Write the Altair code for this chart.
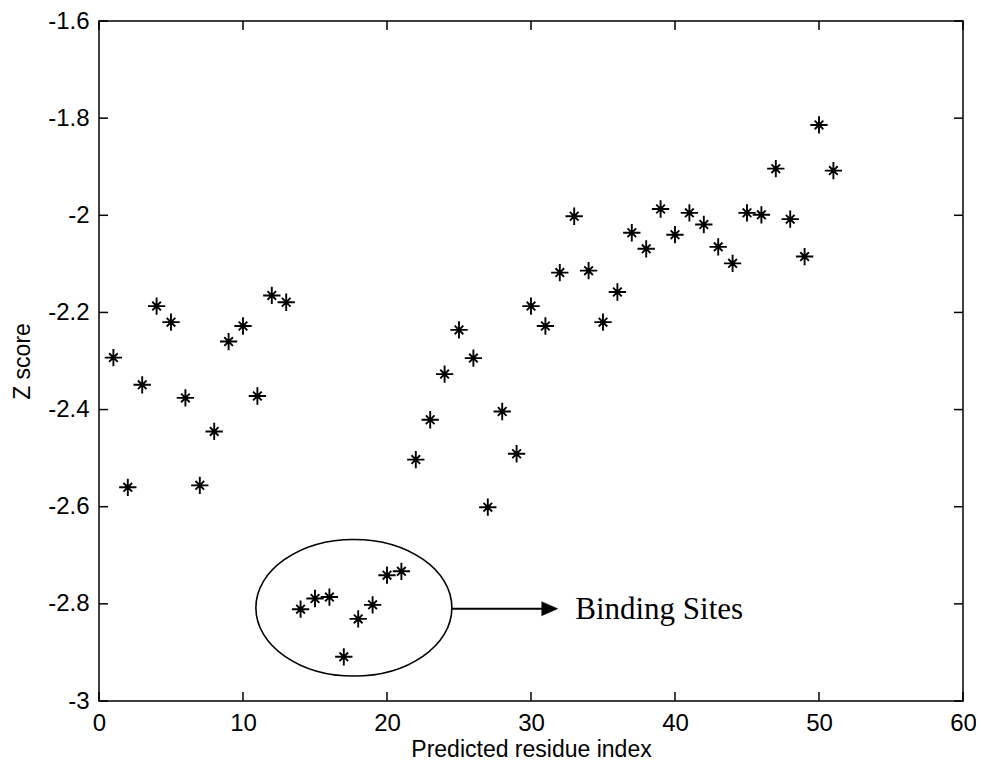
import altair as alt
import pandas as pd

# ---- data ----
residue_index = list(range(1, 52))
z_score = [
    -2.293, -2.560, -2.349, -2.187, -2.220, -2.376, -2.556, -2.445, -2.260, -2.228,
    -2.372, -2.165, -2.179, -2.811, -2.789, -2.786, -2.909, -2.831, -2.802, -2.741,
    -2.733, -2.503, -2.421, -2.327, -2.236, -2.294, -2.601, -2.404, -2.491, -2.187,
    -2.228, -2.118, -2.002, -2.114, -2.220, -2.158, -2.036, -2.069, -1.987, -2.040,
    -1.995, -2.019, -2.065, -2.099, -1.995, -1.999, -1.904, -2.008, -2.085, -1.814,
    -1.908,
]
x_ticks = [0, 10, 20, 30, 40, 50, 60]
y_ticks = [-3, -2.8, -2.6, -2.4, -2.2, -2, -1.8, -1.6]

# annotation (data coordinates)
ellipse_x = [17.7]
ellipse_y = [-2.808]
arrow_x = [24.52]
arrow_x2 = [31.1]
arrow_y = [-2.81]
head_x = [31.3]
label_x = [33.07]
label_y = [-2.832]
label_text = ["Binding Sites"]

W, H = 864, 680
TICK = 9

pts = pd.DataFrame({"idx": residue_index, "z": z_score})
xt = pd.DataFrame({"v": x_ticks})
yt = pd.DataFrame({"v": y_ticks})
ell = pd.DataFrame({"x": ellipse_x, "y": ellipse_y})
arr = pd.DataFrame({"x": arrow_x, "x2": arrow_x2, "y": arrow_y})
head = pd.DataFrame({"x": head_x, "y": arrow_y})
lab = pd.DataFrame({"x": label_x, "y": label_y, "t": label_text})

xs = alt.Scale(domain=[0, 60], nice=False, zero=False)
ys = alt.Scale(domain=[-3, -1.6], nice=False, zero=False)

x_axis = alt.Axis(
    values=x_ticks, format="d", grid=False, ticks=False, domain=False,
    labelFont="Liberation Sans", labelFontSize=24, labelColor="black",
    labelBaseline="alphabetic", labelPadding=29, labelFlush=False,
    title="Predicted residue index", titleFont="Liberation Sans", titleFontSize=23,
    titleFontWeight="normal", titleColor="black", titleX=W / 2, titleY=55,
    titleBaseline="alphabetic", titleAlign="center",
)
y_axis = alt.Axis(
    values=y_ticks, grid=False, ticks=False, domain=False,
    labelExpr="datum.value == -2 ? '-2' : datum.value == -3 ? '-3' : '' + datum.value",
    labelFont="Liberation Sans", labelFontSize=24, labelColor="black",
    labelPadding=10, labelFlush=False,
    title="Z score", titleFont="Liberation Sans", titleFontSize=23,
    titleFontWeight="normal", titleColor="black", titleX=-77, titleY=H / 2,
    titleAngle=270, titleBaseline="middle", titleAlign="center",
)

asterisk = "M-1,0L1,0M0,-1L0,1M-0.5,-0.5L0.5,0.5M-0.5,0.5L0.5,-0.5"

points = alt.Chart(pts).mark_point(
    shape=asterisk, size=300, filled=False, stroke="black", strokeWidth=1.9, opacity=1
).encode(
    x=alt.X("idx:Q", scale=xs, axis=x_axis),
    y=alt.Y("z:Q", scale=ys, axis=y_axis),
)

bottom_ticks = alt.Chart(xt).mark_rule(color="black", strokeWidth=1.5).encode(
    x=alt.X("v:Q"), y=alt.value(H), y2=alt.value(H - TICK)
)
top_ticks = alt.Chart(xt).mark_rule(color="black", strokeWidth=1.5).encode(
    x=alt.X("v:Q"), y=alt.value(0), y2=alt.value(TICK)
)
left_ticks = alt.Chart(yt).mark_rule(color="black", strokeWidth=1.5).encode(
    y=alt.Y("v:Q"), x=alt.value(0), x2=alt.value(TICK)
)
right_ticks = alt.Chart(yt).mark_rule(color="black", strokeWidth=1.5).encode(
    y=alt.Y("v:Q"), x=alt.value(W - TICK), x2=alt.value(W)
)

k = 0.5523
ry = 0.697
ellipse_path = (
    f"M-1,0C-1,{-k*ry:.4f} {-k:.4f},{-ry} 0,{-ry}"
    f"C{k:.4f},{-ry} 1,{-k*ry:.4f} 1,0"
    f"C1,{k*ry:.4f} {k:.4f},{ry} 0,{ry}"
    f"C{-k:.4f},{ry} -1,{k*ry:.4f} -1,0Z"
)
ellipse = alt.Chart(ell).mark_point(
    shape=ellipse_path, size=196 * 196, filled=False, stroke="black",
    strokeWidth=1.6, opacity=1
).encode(x="x:Q", y="y:Q")

arrow_line = alt.Chart(arr).mark_rule(color="black", strokeWidth=2).encode(
    x="x:Q", x2="x2:Q", y="y:Q",
)
arrow_head = alt.Chart(head).mark_point(
    shape="M-1,-0.875L1,0L-1,0.875Z", size=256, filled=True, fill="black",
    stroke="black", strokeWidth=0.5, opacity=1
).encode(x="x:Q", y="y:Q")
label = alt.Chart(lab).mark_text(
    font="Liberation Serif", fontSize=31, align="left", baseline="alphabetic",
    color="black"
).encode(x="x:Q", y="y:Q", text="t:N")

chart = alt.layer(
    points, bottom_ticks, top_ticks, left_ticks, right_ticks,
    ellipse, arrow_line, arrow_head, label,
).properties(
    width=W, height=H,
    autosize=alt.AutoSizeParams(type="none"),
    padding={"left": 91, "top": 13, "right": 13, "bottom": 60},
    background="white",
).configure_view(
    stroke="black", strokeWidth=1.5
)

chart.save("out.html", embed_options={"renderer": "svg", "actions": False})
